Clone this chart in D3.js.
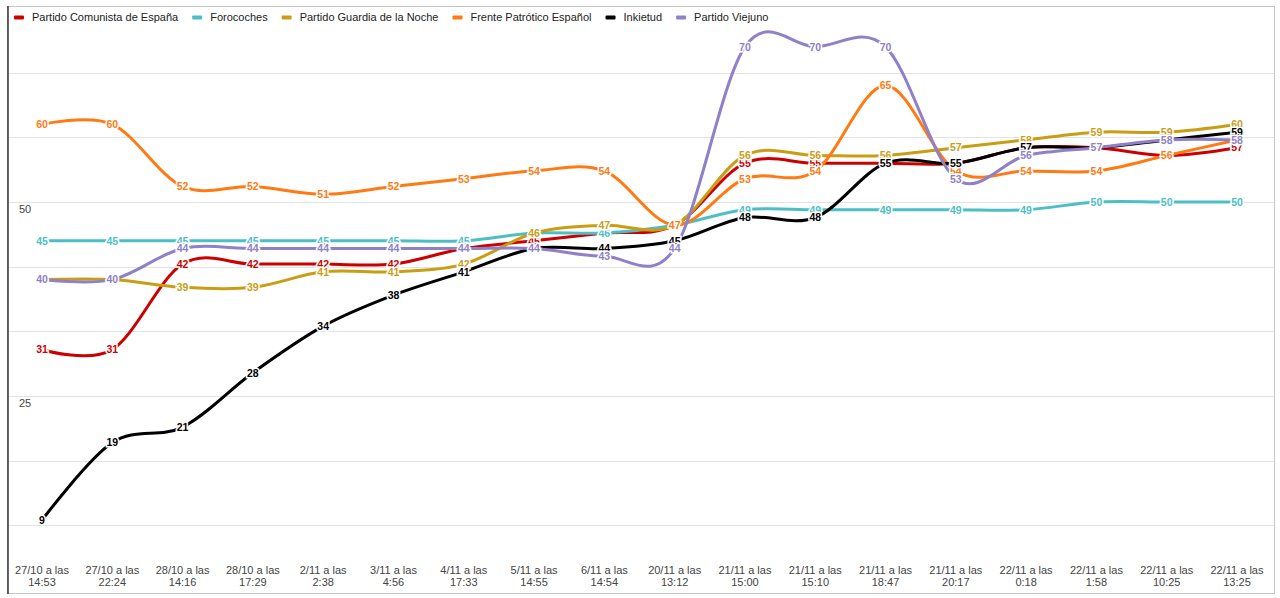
<!DOCTYPE html>
<html>
<head>
<meta charset="utf-8">
<script src="https://cdn.jsdelivr.net/npm/d3@7"></script>
<style>
  body { margin: 0; background: #fff; }
  svg { display: block; font-family: Arial, "Liberation Sans", sans-serif; }
</style>
</head>
<body>
<div id="chart"></div>
<script>
// Fechas del eje X (dos líneas cada una)
const fechas = [
  ["27/10 a las", "14:53"], ["27/10 a las", "22:24"], ["28/10 a las", "14:16"],
  ["28/10 a las", "17:29"], ["2/11 a las", "2:38"], ["3/11 a las", "4:56"],
  ["4/11 a las", "17:33"], ["5/11 a las", "14:55"], ["6/11 a las", "14:54"],
  ["20/11 a las", "13:12"], ["21/11 a las", "15:00"], ["21/11 a las", "15:10"],
  ["21/11 a las", "18:47"], ["21/11 a las", "20:17"], ["22/11 a las", "0:18"],
  ["22/11 a las", "1:58"], ["22/11 a las", "10:25"], ["22/11 a las", "13:25"]
];

// Valores de cada partido
const comunista = [31, 31, 42, 42, 42, 42, 44, 45, 46, 47, 55, 55, 55, 55, 57, 57, 56, 57];
const forocoches = [45, 45, 45, 45, 45, 45, 45, 46, 46, 47, 49, 49, 49, 49, 49, 50, 50, 50];
const guardia = [40, 40, 39, 39, 41, 41, 42, 46, 47, 47, 56, 56, 56, 57, 58, 59, 59, 60];
const frente = [60, 60, 52, 52, 51, 52, 53, 54, 54, 47, 53, 54, 65, 54, 54, 54, 56, 58];
const inkietud = [9, 19, 21, 28, 34, 38, 41, 44, 44, 45, 48, 48, 55, 55, 57, 57, 58, 59];
const viejuno = [40, 40, 44, 44, 44, 44, 44, 44, 43, 44, 70, 70, 70, 53, 56, 57, 58, 58];

const nombres = [
  "Partido Comunista de España", "Forocoches", "Partido Guardia de la Noche",
  "Frente Patrótico Español", "Inkietud", "Partido Viejuno"
];
const colores = ["#cc0000", "#4cbfc6", "#c99e14", "#ff7a12", "#000000", "#8f80c7"];
const yTicksLabel = [25, 50];

const series = [comunista, forocoches, guardia, frente, inkietud, viejuno].map((vals, i) => ({
  name: nombres[i],
  color: colores[i],
  values: vals
}));

const width = 1280, height = 598;
const svg = d3.select("#chart").append("svg")
  .attr("width", width)
  .attr("height", height);

const x = d3.scalePoint()
  .domain(d3.range(fechas.length))
  .range([42, 1237]);

const y = d3.scaleLinear()
  .domain([0, 75])
  .range([590, 8]);

// Marco
svg.append("rect")
  .attr("x", 7.5).attr("y", 6.5)
  .attr("width", 1267).attr("height", 587)
  .attr("fill", "none")
  .attr("stroke", "#c6c6c6");

// Líneas de cuadrícula cada 25/3
const gridVals = d3.range(1, 9).map((j) => (j * 25) / 3);
svg.append("g")
  .selectAll("line")
  .data(gridVals)
  .enter()
  .append("line")
  .attr("x1", 8).attr("x2", 1274)
  .attr("y1", (d) => Math.round(y(d)) + 0.5)
  .attr("y2", (d) => Math.round(y(d)) + 0.5)
  .attr("stroke", "#e3e3e3");

// Eje izquierdo
svg.append("line")
  .attr("x1", 8).attr("x2", 8)
  .attr("y1", 6).attr("y2", 594)
  .attr("stroke", "#333")
  .attr("stroke-width", 1.5);

// Etiquetas del eje Y
svg.append("g")
  .selectAll("text")
  .data(yTicksLabel)
  .enter()
  .append("text")
  .attr("x", 25)
  .attr("y", (d) => y(d) + 11)
  .attr("text-anchor", "middle")
  .attr("font-size", 11)
  .attr("fill", "#444")
  .text((d) => d);

// Etiquetas del eje X
const xLabels = svg.append("g")
  .selectAll("text")
  .data(fechas)
  .enter()
  .append("text")
  .attr("text-anchor", "middle")
  .attr("font-size", 11)
  .attr("fill", "#444");
xLabels.append("tspan").attr("x", (d, i) => x(i)).attr("y", 574).text((d) => d[0]);
xLabels.append("tspan").attr("x", (d, i) => x(i)).attr("y", 586).text((d) => d[1]);

// Líneas
const line = d3.line()
  .x((d, i) => x(i))
  .y((d) => y(d))
  .curve(d3.curveCardinal.tension(0));

svg.append("g")
  .selectAll("path")
  .data(series)
  .enter()
  .append("path")
  .attr("d", (d) => line(d.values))
  .attr("fill", "none")
  .attr("stroke", (d) => d.color)
  .attr("stroke-width", 3)
  .attr("stroke-linejoin", "round")
  .attr("stroke-linecap", "round");

// Anotaciones de valores (las series posteriores quedan encima).
// Si una serie posterior tiene el mismo valor en el mismo punto, la
// etiqueta anterior queda tapada por completo, así que no se dibuja.
series.forEach((s, si) => {
  const visibles = s.values
    .map((v, i) => ({ v, i }))
    .filter((p) => !series.slice(si + 1).some((o) => o.values[p.i] === p.v));
  svg.append("g")
    .selectAll("text")
    .data(visibles)
    .enter()
    .append("text")
    .attr("x", (d) => x(d.i))
    .attr("y", (d) => y(d.v))
    .attr("dy", "0.36em")
    .attr("text-anchor", "middle")
    .attr("font-size", 10.5)
    .attr("font-weight", "bold")
    .attr("fill", s.color)
    .attr("stroke", "#fff")
    .attr("stroke-width", 3)
    .attr("paint-order", "stroke")
    .text((d) => d.v);
});

// Leyenda
const legend = svg.append("g");
let lx = 14;
series.forEach((s) => {
  legend.append("rect")
    .attr("x", lx).attr("y", 15.5)
    .attr("width", 10).attr("height", 4)
    .attr("rx", 1)
    .attr("fill", s.color);
  const t = legend.append("text")
    .attr("x", lx + 18)
    .attr("y", 21)
    .attr("font-size", 11)
    .attr("fill", "#222")
    .text(s.name);
  lx = lx + 18 + t.node().getComputedTextLength() + 14;
});
</script>
</body>
</html>
